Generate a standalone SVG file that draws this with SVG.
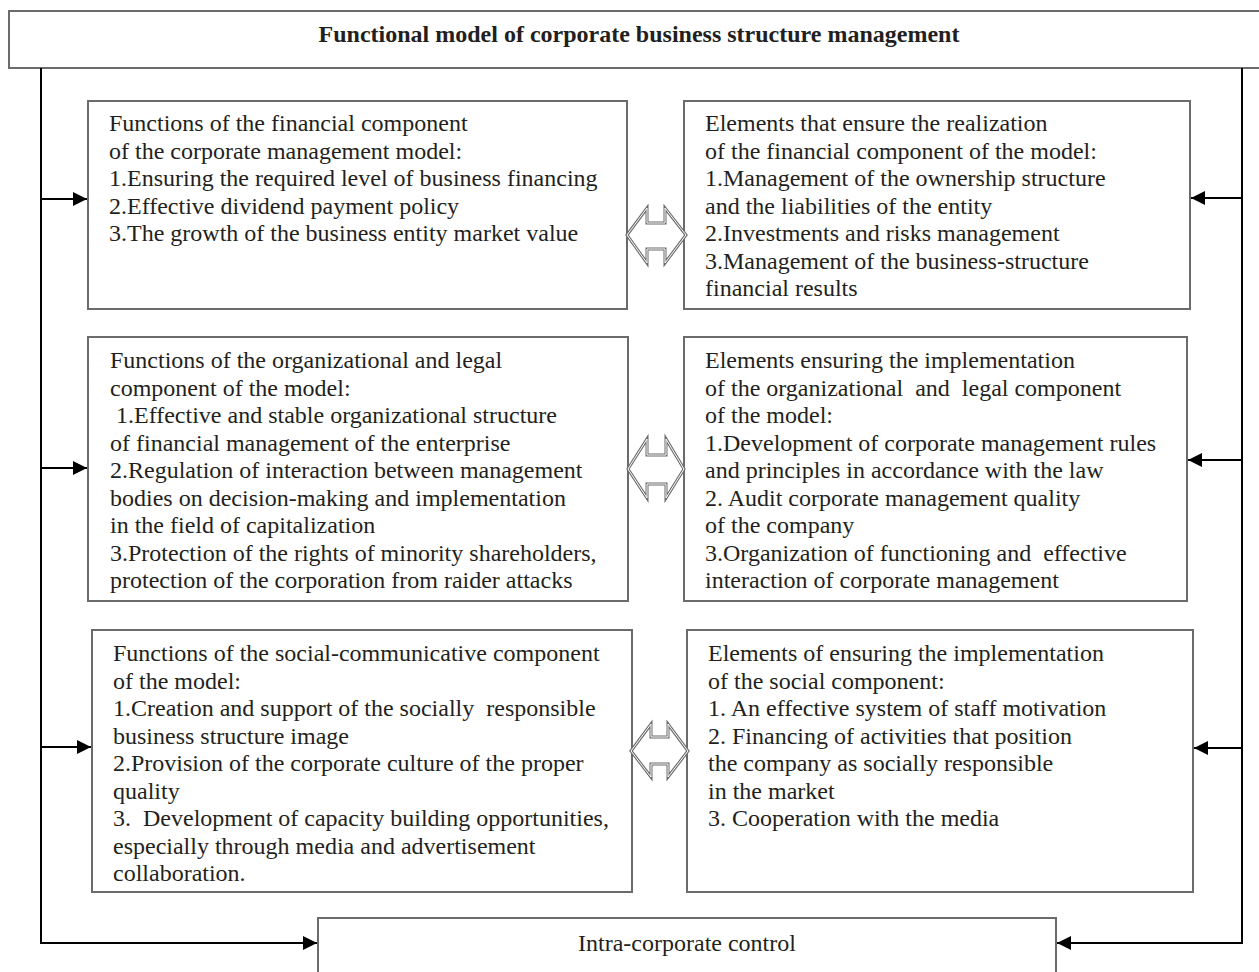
<svg xmlns="http://www.w3.org/2000/svg" width="1259" height="972" viewBox="0 0 1259 972">
<defs>
<style>
.box{fill:#fff;stroke:#6b6b6b;stroke-width:2}
.t{font-family:"Liberation Serif","Times New Roman",serif;font-size:24px;fill:#231f20}
.title{font-family:"Liberation Serif","Times New Roman",serif;font-size:24px;font-weight:bold;fill:#231f20}
.conn{fill:none;stroke:#000;stroke-width:2}
.dbl-o{fill:#fff;stroke:#6b6b6b;stroke-width:3;stroke-linejoin:miter}
.dbl-i{fill:none;stroke:#fff;stroke-width:1}
</style>
<marker id="ah" viewBox="0 0 10 10" refX="10" refY="5" markerWidth="7" markerHeight="7" markerUnits="strokeWidth" orient="auto">
<path d="M0,0 L10,5 L0,10 z" fill="#000"/>
</marker>
</defs>
<rect width="1259" height="972" fill="#fff"/>

<g id="title-node">
<rect class="box" x="9" y="11" width="1262" height="57"/>
<text class="title" x="639" y="42" text-anchor="middle">Functional model of corporate business structure management</text>
</g>

<g id="fin-functions">
<rect class="box" x="88" y="101" width="539" height="208"/>
<text class="t" xml:space="preserve"><tspan x="109" y="131">Functions of the financial component</tspan><tspan x="109" y="158.5">of the corporate management model:</tspan><tspan x="109" y="186">1.Ensuring the required level of business financing</tspan><tspan x="109" y="213.5">2.Effective dividend payment policy</tspan><tspan x="109" y="241">3.The growth of the business entity market value</tspan></text>
</g>

<g id="fin-elements">
<rect class="box" x="684" y="101" width="506" height="208"/>
<text class="t" xml:space="preserve"><tspan x="705" y="131">Elements that ensure the realization</tspan><tspan x="705" y="158.5">of the financial component of the model:</tspan><tspan x="705" y="186">1.Management of the ownership structure</tspan><tspan x="705" y="213.5">and the liabilities of the entity</tspan><tspan x="705" y="241">2.Investments and risks management</tspan><tspan x="705" y="268.5">3.Management of the business-structure</tspan><tspan x="705" y="296">financial results</tspan></text>
</g>

<g id="org-functions">
<rect class="box" x="88" y="337" width="540" height="264"/>
<text class="t" xml:space="preserve"><tspan x="110" y="368">Functions of the organizational and legal</tspan><tspan x="110" y="395.5">component of the model:</tspan><tspan x="110" y="423"> 1.Effective and stable organizational structure</tspan><tspan x="110" y="450.5">of financial management of the enterprise</tspan><tspan x="110" y="478">2.Regulation of interaction between management</tspan><tspan x="110" y="505.5">bodies on decision-making and implementation</tspan><tspan x="110" y="533">in the field of capitalization</tspan><tspan x="110" y="560.5">3.Protection of the rights of minority shareholders,</tspan><tspan x="110" y="588">protection of the corporation from raider attacks</tspan></text>
</g>

<g id="org-elements">
<rect class="box" x="684" y="337" width="503" height="264"/>
<text class="t" xml:space="preserve"><tspan x="705" y="368">Elements ensuring the implementation</tspan><tspan x="705" y="395.5">of the organizational  and  legal component</tspan><tspan x="705" y="423">of the model:</tspan><tspan x="705" y="450.5">1.Development of corporate management rules</tspan><tspan x="705" y="478">and principles in accordance with the law</tspan><tspan x="705" y="505.5">2. Audit corporate management quality</tspan><tspan x="705" y="533">of the company</tspan><tspan x="705" y="560.5">3.Organization of functioning and  effective</tspan><tspan x="705" y="588">interaction of corporate management</tspan></text>
</g>

<g id="soc-functions">
<rect class="box" x="92" y="630" width="540" height="262"/>
<text class="t" xml:space="preserve"><tspan x="113" y="661">Functions of the social-communicative component</tspan><tspan x="113" y="688.5">of the model:</tspan><tspan x="113" y="716">1.Creation and support of the socially  responsible</tspan><tspan x="113" y="743.5">business structure image</tspan><tspan x="113" y="771">2.Provision of the corporate culture of the proper</tspan><tspan x="113" y="798.5">quality</tspan><tspan x="113" y="826">3.  Development of capacity building opportunities,</tspan><tspan x="113" y="853.5">especially through media and advertisement</tspan><tspan x="113" y="881">collaboration.</tspan></text>
</g>

<g id="soc-elements">
<rect class="box" x="687" y="630" width="506" height="262"/>
<text class="t" xml:space="preserve"><tspan x="708" y="661">Elements of ensuring the implementation</tspan><tspan x="708" y="688.5">of the social component:</tspan><tspan x="708" y="716">1. An effective system of staff motivation</tspan><tspan x="708" y="743.5">2. Financing of activities that position</tspan><tspan x="708" y="771">the company as socially responsible</tspan><tspan x="708" y="798.5">in the market</tspan><tspan x="708" y="826">3. Cooperation with the media</tspan></text>
</g>

<g id="control-node">
<rect class="box" x="318" y="918" width="738" height="80"/>
<text class="t" x="687" y="951" text-anchor="middle">Intra-corporate control</text>
</g>

<g id="connectors">
<polyline class="conn" points="41,68 41,943 317,943" marker-end="url(#ah)"/>
<polyline class="conn" points="1242,68 1242,943 1057,943" marker-end="url(#ah)"/>
<line class="conn" x1="41" y1="199" x2="87" y2="199" marker-end="url(#ah)"/>
<line class="conn" x1="41" y1="468" x2="87" y2="468" marker-end="url(#ah)"/>
<line class="conn" x1="41" y1="747" x2="91" y2="747" marker-end="url(#ah)"/>
<line class="conn" x1="1242" y1="198" x2="1191" y2="198" marker-end="url(#ah)"/>
<line class="conn" x1="1242" y1="460" x2="1188" y2="460" marker-end="url(#ah)"/>
<line class="conn" x1="1242" y1="748" x2="1194" y2="748" marker-end="url(#ah)"/>
<g id="dbl1">
<polygon class="dbl-o" points="627,235 647,208 647,223 665,223 665,208 686,235 665,263 665,249 647,249 647,263"/>
<polygon class="dbl-i" points="627,235 647,208 647,223 665,223 665,208 686,235 665,263 665,249 647,249 647,263"/>
</g>
<g id="dbl2">
<polygon class="dbl-o" points="628,469 647,439 647,455 666,455 666,439 684,469 666,498 666,484 647,484 647,498"/>
<polygon class="dbl-i" points="628,469 647,439 647,455 666,455 666,439 684,469 666,498 666,484 647,484 647,498"/>
</g>
<g id="dbl3">
<polygon class="dbl-o" points="631,751 651,724 651,737 668,737 668,724 688,751 668,777 668,764 651,764 651,777"/>
<polygon class="dbl-i" points="631,751 651,724 651,737 668,737 668,724 688,751 668,777 668,764 651,764 651,777"/>
</g>
</g>
</svg>
